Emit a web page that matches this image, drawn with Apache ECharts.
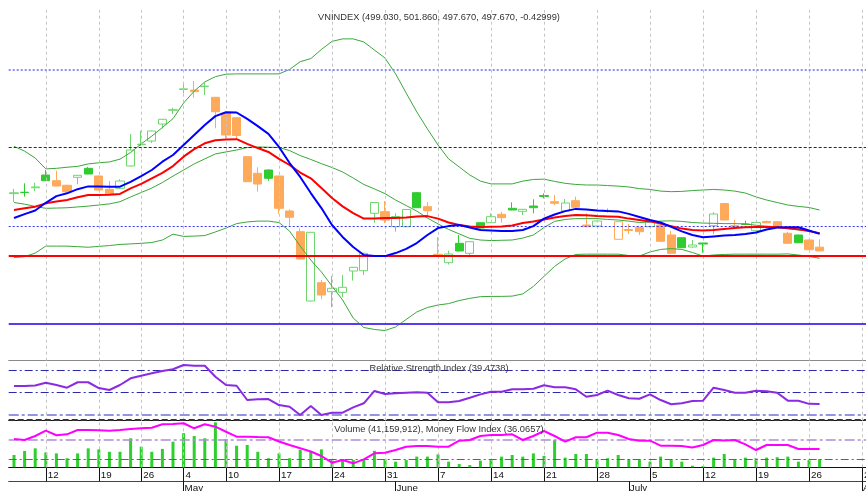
<!DOCTYPE html>
<html><head><meta charset="utf-8">
<script src="https://cdn.jsdelivr.net/npm/echarts@6/dist/echarts.min.js"></script>
<style>html,body{margin:0;padding:0;background:#fff}#c{width:866px;height:491px}</style>
</head><body><div id="c"></div>
<script>
// ---------- DATA ----------
const dates = [
'2010-04-07','2010-04-08','2010-04-09','2010-04-12','2010-04-13','2010-04-14','2010-04-15','2010-04-16','2010-04-19','2010-04-20',
'2010-04-21','2010-04-22','2010-04-26','2010-04-27','2010-04-28','2010-04-29','2010-05-04','2010-05-05','2010-05-06','2010-05-07',
'2010-05-10','2010-05-11','2010-05-12','2010-05-13','2010-05-14','2010-05-17','2010-05-18','2010-05-19','2010-05-20','2010-05-21',
'2010-05-24','2010-05-25','2010-05-26','2010-05-27','2010-05-28','2010-05-31','2010-06-01','2010-06-02','2010-06-03','2010-06-04',
'2010-06-07','2010-06-08','2010-06-09','2010-06-10','2010-06-11','2010-06-14','2010-06-15','2010-06-16','2010-06-17','2010-06-18',
'2010-06-21','2010-06-22','2010-06-23','2010-06-24','2010-06-25','2010-06-28','2010-06-29','2010-06-30','2010-07-01','2010-07-02',
'2010-07-05','2010-07-06','2010-07-07','2010-07-08','2010-07-09','2010-07-12','2010-07-13','2010-07-14','2010-07-15','2010-07-16',
'2010-07-19','2010-07-20','2010-07-21','2010-07-22','2010-07-23','2010-07-26','2010-07-27','2010-07-28','2010-07-29','2010-07-30',
'2010-08-02'];

const opens = [518.3,518.8,520.4,525.0,522.95,521.3,524.17,527.4,524.64,519.85,
 520.21,528.24,535.9,537.24,543.36,548.3,555.8,555.6,556.8,552.97,
 547.32,545.63,531.59,525.61,526.8,524.64,512.04,504.59,479.64,486.23,
 482.99,482.77,490.44,490.55,511.21,511.79,506.39,506.39,518.63,513.59,
 496.45,493.43,500.41,496.81,507.83,507.83,510.85,513.01,511.93,513.84,
 517.62,515.39,512.04,515.75,507.0,506.64,511.86,501.85,505.38,506.17,
 506.39,507.0,503.4,502.43,499.08,500.52,506.75,514.74,506.75,507.36,
 504.95,508.26,508.19,504.01,503.4,501.6,499.03];
const closes = [518.6,518.7,520.7,522.95,521.04,519.0,524.89,525.36,519.6,518.16,
 522.84,534.0,536.1,540.84,545.05,548.5,556.0,555.0,557.0,547.79,
 539.4,539.2,522.59,521.76,523.81,513.01,509.77,494.76,504.37,481.8,
 484.21,484.57,491.77,496.81,515.1,508.8,510.06,512.58,513.23,512.15,
 496.09,496.56,497.64,500.99,505.92,509.99,509.63,512.4,512.65,513.23,
 517.26,514.81,514.92,513.37,506.39,508.44,512.22,508.19,505.02,504.59,
 508.19,501.13,496.81,498.83,499.8,500.16,510.96,508.8,506.39,507.18,
 507.9,507.79,506.53,500.41,500.63,498.1,497.67];
const lows = [515.3,517.2,519.2,522.9,521.0,518.8,521.65,525.3,519.4,518.0,
 520.0,528.1,535.44,536.5,541.81,546.96,554.4,552.83,553.8,541.81,
 538.32,538.2,522.4,518.99,522.95,510.96,506.75,494.6,479.5,480.25,
 477.37,480.97,486.95,489.0,507.83,507.72,504.59,506.2,513.1,510.6,
 495.55,492.78,497.5,495.37,505.8,507.7,507.83,512.3,510.6,511.21,
 516.61,514.2,511.9,513.2,506.2,506.5,511.43,501.7,503.76,503.4,
 506.2,501.0,496.6,498.7,498.9,497.03,503.76,508.7,506.3,507.0,
 504.8,507.7,506.4,500.3,500.5,498.0,497.67];
const highs = [520.0,522.0,522.2,526.8,526.55,521.5,525.0,527.9,524.8,522.84,
 523.45,539.76,540.95,541.0,545.2,549.23,558.0,558.84,558.23,553.1,
 547.7,545.8,531.8,527.77,527.0,524.8,512.65,505.81,504.5,487.2,
 488.64,489.0,491.9,497.0,515.3,515.64,511.21,512.7,518.8,515.28,
 502.68,497.75,503.4,501.1,508.0,511.21,511.79,515.17,512.8,516.25,
 518.41,517.8,516.36,517.19,511.21,508.6,513.0,508.3,507.36,506.3,
 508.8,507.2,504.84,502.6,501.6,500.6,511.57,514.9,508.8,508.55,
 508.0,508.6,508.3,504.59,503.5,501.7,501.86];

const maBlue = [509.5,510.9,512.2,515.0,517.4,518.4,519.9,520.9,520.9,520.8,
 520.8,522.5,524.6,526.8,529.8,532.2,535.8,539.4,543.0,546.2,
 547.6,547.5,545.2,542.6,539.8,535.1,529.3,524.3,518.5,513.1,
 507.0,502.7,499.1,496.2,495.8,495.8,496.9,498.4,500.5,503.4,
 505.9,506.6,507.0,506.1,505.2,505.0,504.8,504.8,505.2,506.6,
 509.3,510.8,512.0,512.8,512.6,512.2,512.0,511.9,511.0,509.9,
 508.8,507.9,506.3,504.7,503.4,502.6,502.9,503.2,503.4,503.8,
 504.3,505.4,506.1,506.2,506.2,505.0,503.8];
const maRed = [512.4,513.0,513.6,514.8,515.5,516.0,517.0,517.8,517.8,517.9,
 518.2,520.2,521.8,523.8,525.8,528.2,531.6,534.3,536.4,537.5,
 537.8,537.9,536.2,534.7,533.3,530.8,528.6,525.9,523.8,520.3,
 516.7,513.7,511.3,509.3,509.3,509.5,509.5,509.7,510.1,510.2,
 509.3,507.9,507.0,506.5,506.3,506.4,506.5,506.8,507.7,508.3,
 509.0,509.7,510.2,510.6,510.5,510.2,510.1,510.0,509.3,508.8,
 508.3,507.5,506.6,505.7,505.2,505.0,505.2,505.6,505.9,506.2,
 506.3,506.4,506.2,505.8,505.5,504.8,504.0];
const bbUpper = [535.3,533.6,531.1,527.2,527.4,527.8,528.1,529.0,529.4,529.7,
 530.7,533.1,536.2,539.0,542.1,545.3,550.9,555.2,558.5,560.4,
 561.3,561.4,561.4,561.4,561.4,561.4,563.0,565.8,566.9,570.2,
 573.1,574.0,574.0,572.9,570.0,567.1,561.4,554.5,547.7,541.6,
 535.8,530.8,527.9,525.0,522.8,521.8,521.8,521.8,522.8,523.4,
 523.5,522.7,522.0,521.6,521.4,521.4,521.2,521.0,520.7,520.1,
 519.8,519.2,519.0,519.1,519.4,519.6,519.8,519.6,519.2,518.5,
 517.1,516.0,515.1,514.2,513.7,513.3,512.4];
const bbMiddle = [515.1,514.5,513.7,513.0,513.1,513.2,513.5,513.8,514.2,514.6,
 515.4,517.1,518.7,520.3,522.3,524.6,526.8,529.0,530.8,532.6,
 533.3,534.0,534.9,535.1,535.0,534.9,533.8,532.0,530.6,529.1,
 527.7,526.1,523.9,521.6,520.0,518.3,516.0,514.0,512.0,509.5,
 507.4,505.4,503.8,502.2,501.6,501.4,501.5,501.6,502.3,503.4,
 506.1,508.3,509.0,509.3,509.3,509.3,509.0,508.8,508.4,507.9,
 508.1,508.4,508.5,508.3,507.9,507.7,507.6,507.5,507.5,507.4,
 506.9,506.5,506.2,505.7,505.2,504.8,504.2];
const bbLower = [495.3,495.6,496.9,499.4,499.4,499.4,499.2,499.0,499.3,499.6,
 500.0,500.2,500.4,500.7,501.6,503.7,502.9,503.0,503.2,504.5,
 505.9,507.5,508.1,508.4,508.4,507.9,504.8,499.4,494.4,490.1,
 485.0,480.0,473.5,470.1,469.4,469.0,470.3,473.0,475.7,477.3,
 478.2,478.7,479.8,480.6,481.2,481.3,481.3,481.4,482.2,484.9,
 488.5,492.1,494.8,496.4,496.5,496.5,496.5,496.5,496.0,495.8,
 497.3,498.2,498.5,498.2,497.1,495.8,496.2,496.4,496.5,496.5,
 496.5,496.5,496.5,496.6,496.2,495.7,495.0];

const priceLevels = [562.8, 535.1, 506.4, 496.0, 471.6];

const rsi = [56.0,56.0,56.4,59.0,56.9,54.4,59.4,59.4,54.1,52.3,
 56.9,63.0,65.4,67.6,69.7,71.3,75.2,74.6,74.6,64.5,
 56.9,56.2,43.1,43.8,44.0,38.5,37.0,29.4,37.6,29.4,
 31.5,31.5,36.4,40.1,51.4,48.6,49.3,49.8,50.2,49.8,
 41.0,41.0,42.2,45.2,48.3,50.7,50.7,52.9,52.9,53.5,
 56.6,54.8,54.8,52.9,46.1,47.7,51.7,47.7,44.7,44.3,
 48.3,43.1,39.2,40.1,42.2,42.5,54.4,52.3,49.8,49.8,
 51.7,51.1,49.8,42.5,42.5,39.6,39.4738];
const rsiLevels = [70, 50, 30, 25];

const volumeM = [61,81,94,74,69,45,69,94,89,77,
 77,144,102,77,91,127,169,155,144,223,
 139,107,111,77,45,69,45,86,77,89,
 36,40,36,36,82,40,28,36,53,53,
 64,28,16,11,33,36,53,61,53,69,
 56,135,48,66,66,40,45,61,41,36,
 28,53,36,28,8,6,48,66,36,48,
 45,48,50,53,28,36,41.159912];
const mfi = [51.5,50.0,56.2,64.4,57.3,58.8,65.5,65.5,65.0,64.4,
 65.5,67.0,68.1,69.0,74.3,74.8,75.9,68.1,74.3,70.6,
 62.8,55.1,55.1,54.6,54.2,47.7,42.3,37.2,32.2,25.2,
 14.9,19.0,13.9,20.1,29.4,30.3,34.5,39.6,40.7,40.7,
 39.6,39.6,48.9,50.0,56.2,57.7,57.7,58.8,50.0,56.2,
 63.9,56.2,47.4,54.2,54.2,61.3,61.3,57.7,51.5,48.9,
 48.9,41.2,41.2,40.7,38.4,42.3,50.0,49.2,50.0,43.3,
 34.5,42.3,42.3,42.3,36.1,36.1,36.0657];
const mfiLevels = [50, 20];

const titleText = 'VNINDEX (499.030, 501.860, 497.670, 497.670, -0.42999)';
const rsiText = 'Relative Strength Index (39.4738)';
const volText = 'Volume (41,159,912), Money Flow Index (36.0657)';
const monthNames = {'05':'May','06':'June','07':'July','08':'August'};

// ---------- STYLE / BUILD ----------
const F = "'Liberation Sans', Arial, sans-serif";
const GREEN = '#2ecc2e', LGREEN = '#6fd66f', ORANGE = '#ffaa5a';
const dow = s => new Date(s + 'T00:00:00Z').getUTCDay();
const weekStart = new Set(dates.filter((d, i) => i > 0 && dow(d) < dow(dates[i - 1])));
const monthStart = new Set(dates.filter((d, i) => i > 0 && d.slice(5, 7) !== dates[i - 1].slice(5, 7)));

const candleData = opens.map((o, i) => {
  const c = closes[i];
  const up = i === 0 || c >= closes[i - 1];
  const hollow = c > o;
  const col = up ? (hollow ? LGREEN : GREEN) : ORANGE;
  const fill = hollow ? '#ffffff' : col;
  return { value: [o, c, lows[i], highs[i]],
    itemStyle: { color: fill, color0: fill, borderColor: col, borderColor0: col, borderColorDoji: col } };
});

const vGrid = [...weekStart].map(d => ({ xAxis: d }));
const vLineStyle = { color: '#c4c4c4', width: 1, type: [3, 3] };
function gridLines(xi, yi) {
  return { type: 'line', xAxisIndex: xi, yAxisIndex: yi, data: [], z: 1, silent: true,
    markLine: { silent: true, symbol: 'none', label: { show: false }, animation: false,
      lineStyle: vLineStyle, data: vGrid } };
}
const levelStyles = [
  { color: '#8c8cff', width: 2, type: [2, 2] },
  { color: '#1c1c90', width: 1, type: [3, 2] },
  { color: '#3434ff', width: 1, type: [2, 2] },
  { color: '#ff0000', width: 2, type: 'solid' },
  { color: '#5a3cf0', width: 2, type: 'solid' }
];
const rsiStyles = [
  { color: '#2a2aa8', width: 1, type: [8, 3, 2, 3] },
  { color: '#2a2aa8', width: 1, type: [8, 3, 2, 3] },
  { color: '#9494e0', width: 2, type: [10, 3, 3, 3] },
  { color: '#333333', width: 2, type: [6, 3] }
];
const mfiStyles = [
  { color: '#b08ad8', width: 1.5, type: [10, 3, 3, 3] },
  { color: '#7a4ab0', width: 1, type: [8, 3, 2, 3] }
];
const lineS = (data, color, width, z) => ({ type: 'line', xAxisIndex: 0, yAxisIndex: 0, data, symbol: 'none',
  lineStyle: { color, width }, z, silent: true });

const hiddenX = (gi, lineColor) => ({ type: 'category', gridIndex: gi, data: dates, boundaryGap: true,
  axisLine: { show: true, lineStyle: { color: lineColor, width: 1 } }, axisTick: { show: false },
  axisLabel: { show: false }, splitLine: { show: false } });

const txt = { fontSize: 9.3, fontWeight: 'normal', fontFamily: F, color: '#333' };
const gridBase = { left: 8.7, width: 858.6, outerBoundsMode: 'none', containLabel: false };

const option = {
  animation: false,
  backgroundColor: '#ffffff',
  title: [
    { text: titleText, left: 439, top: 13, textAlign: 'center', padding: 0, textStyle: txt },
    { text: rsiText, left: 439, top: 364, textAlign: 'center', padding: 0, textStyle: txt },
    { text: volText, left: 439, top: 425, textAlign: 'center', padding: 0, textStyle: txt }
  ],
  grid: [
    Object.assign({ top: 10, height: 350.7 }, gridBase),
    Object.assign({ top: 360.7, height: 60 }, gridBase),
    Object.assign({ top: 420.7, height: 46.6 }, gridBase)
  ],
  xAxis: [
    hiddenX(0, '#8a8a8a'),
    hiddenX(1, '#111111'),
    { type: 'category', gridIndex: 2, data: dates, boundaryGap: true,
      axisLine: { show: true, lineStyle: { color: '#111', width: 1 } },
      axisTick: { show: true, alignWithLabel: true, interval: (i, v) => weekStart.has(v), length: 14,
        lineStyle: { color: '#111' } },
      axisLabel: { show: true, interval: (i, v) => weekStart.has(v), formatter: v => String(+v.slice(8)),
        align: 'left', margin: 3, padding: [0, 0, 0, 2], fontSize: 9.8, fontFamily: F, color: '#111' },
      splitLine: { show: false } },
    { type: 'category', gridIndex: 2, data: dates, boundaryGap: true, position: 'bottom', offset: 14,
      axisLine: { show: true, lineStyle: { color: '#444', width: 1 } },
      axisTick: { show: true, alignWithLabel: true, interval: (i, v) => monthStart.has(v), length: 10,
        lineStyle: { color: '#111' } },
      axisLabel: { show: true, interval: (i, v) => monthStart.has(v), formatter: v => monthNames[v.slice(5, 7)],
        align: 'left', margin: 2, padding: [0, 0, 0, 1], fontSize: 9.8, fontFamily: F, color: '#111' },
      splitLine: { show: false } }
  ],
  yAxis: [
    { type: 'value', gridIndex: 0, min: 458.15, max: 584.4, show: false, splitLine: { show: false } },
    { type: 'value', gridIndex: 1, min: 24.13, max: 79.17, show: false, splitLine: { show: false } },
    { type: 'value', gridIndex: 2, min: 0, max: 231.1, show: false, splitLine: { show: false } },
    { type: 'value', gridIndex: 2, min: 7.74, max: 79.88, show: false, splitLine: { show: false } }
  ],
  series: [
    gridLines(0, 0), gridLines(1, 1), gridLines(2, 2),
    { type: 'candlestick', xAxisIndex: 0, yAxisIndex: 0, data: candleData, barWidth: 8.6, z: 3, silent: true,
      itemStyle: { borderWidth: 1 } },
    lineS(bbUpper, '#3aa83a', 1, 4),
    lineS(bbMiddle, '#3aa83a', 1, 4),
    lineS(bbLower, '#3aa83a', 1, 4),
    lineS(maRed, '#ff0000', 2, 5),
    lineS(maBlue, '#0000ff', 2, 6),
    { type: 'line', xAxisIndex: 0, yAxisIndex: 0, data: [], z: 7, silent: true,
      markLine: { silent: true, symbol: 'none', label: { show: false }, animation: false,
        data: priceLevels.map((v, k) => ({ yAxis: v, lineStyle: levelStyles[k] })) } },
    { type: 'line', xAxisIndex: 1, yAxisIndex: 1, data: rsi, symbol: 'none', z: 5, silent: true,
      lineStyle: { color: '#8a2be2', width: 2 },
      markLine: { silent: true, symbol: 'none', label: { show: false }, animation: false,
        data: rsiLevels.map((v, k) => ({ yAxis: v, lineStyle: rsiStyles[k] })) } },
    { type: 'bar', xAxisIndex: 2, yAxisIndex: 2, data: volumeM, barWidth: 3, z: 3, silent: true,
      itemStyle: { color: '#2fcf2f' } },
    { type: 'line', xAxisIndex: 2, yAxisIndex: 3, data: mfi, symbol: 'none', z: 5, silent: true,
      lineStyle: { color: '#ff00ff', width: 2 },
      markLine: { silent: true, symbol: 'none', label: { show: false }, animation: false,
        data: mfiLevels.map((v, k) => ({ yAxis: v, lineStyle: mfiStyles[k] })) } }
  ]
};
const chart = echarts.init(document.getElementById('c'), null, { renderer: 'canvas' });
chart.setOption(option);
</script>
</body></html>
